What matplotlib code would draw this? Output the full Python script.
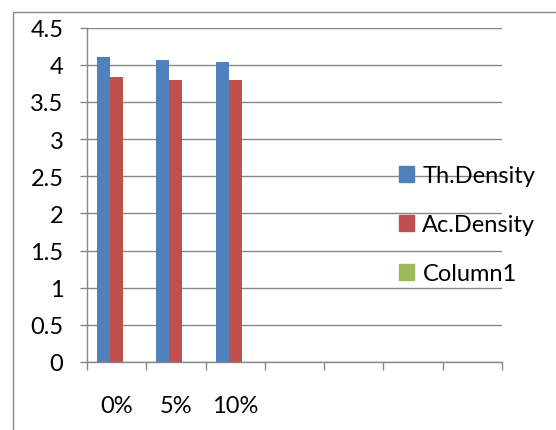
import matplotlib.pyplot as plt
import numpy as np
from matplotlib.patches import Patch, Rectangle

categories = ['0%', '5%', '10%', '', '', '', '']
th_density = [4.11, 4.07, 4.04]
ac_density = [3.84, 3.80, 3.79]
column1 = []

series = [('Th.Density', th_density, '#4F81BD'),
          ('Ac.Density', ac_density, '#C0504D'),
          ('Column1', column1, '#9BBB59')]

plt.rcParams['font.family'] = ['Lato', 'DejaVu Sans']
grid_color = '#878787'
fs = 17

fig = plt.figure(figsize=(5.56, 4.31), dpi=100)
ax = fig.add_axes([87 / 556, 1 - 363 / 431, (502 - 87) / 556, (363 - 28.7) / 431])

# chart border (clipped on the right and bottom like the original)
fig.patches.append(Rectangle((13 / 556, -0.1), 1.2, 1.1 - 13 / 431, transform=fig.transFigure,
                             fill=False, edgecolor=grid_color, linewidth=1.0))

width = 0.22
for k, (name, values, color) in enumerate(series):
    x = np.arange(len(values)) + (k - 1) * width
    ax.bar(x, values, width=width, color=color, zorder=2)

ax.set_xlim(-0.5, len(categories) - 0.5)
ax.set_ylim(0, 4.5)
ax.set_yticks(np.arange(0, 4.51, 0.5))
ax.set_yticklabels(['0', '0.5', '1', '1.5', '2', '2.5', '3', '3.5', '4', '4.5'])
ax.set_xticks(np.arange(len(categories)))
ax.set_xticklabels(categories)
ax.set_xticks(np.arange(len(categories) + 1) - 0.5, minor=True)

ax.grid(axis='y', color=grid_color, linewidth=1.0, zorder=0)
ax.set_axisbelow(True)
for s in ['top', 'right']:
    ax.spines[s].set_visible(False)
for s in ['left', 'bottom']:
    ax.spines[s].set_color(grid_color)
    ax.spines[s].set_linewidth(1.0)

ax.tick_params(axis='y', length=5, width=1.0, color=grid_color, pad=12, labelsize=fs)
ax.tick_params(axis='x', which='major', length=0, pad=24, labelsize=fs)
ax.tick_params(axis='x', which='minor', length=6, width=1.0, color=grid_color)

handles = [Patch(color=c, label=n) for n, _, c in series]
fig.legend(handles=handles, loc='upper left', bbox_to_anchor=(399 / 556, 1 - 166 / 431),
           frameon=False, fontsize=fs, borderpad=0, borderaxespad=0,
           handlelength=0.64, handleheight=0.64, handletextpad=0.35, labelspacing=1.19)

fig.savefig('out.png', dpi=100)
